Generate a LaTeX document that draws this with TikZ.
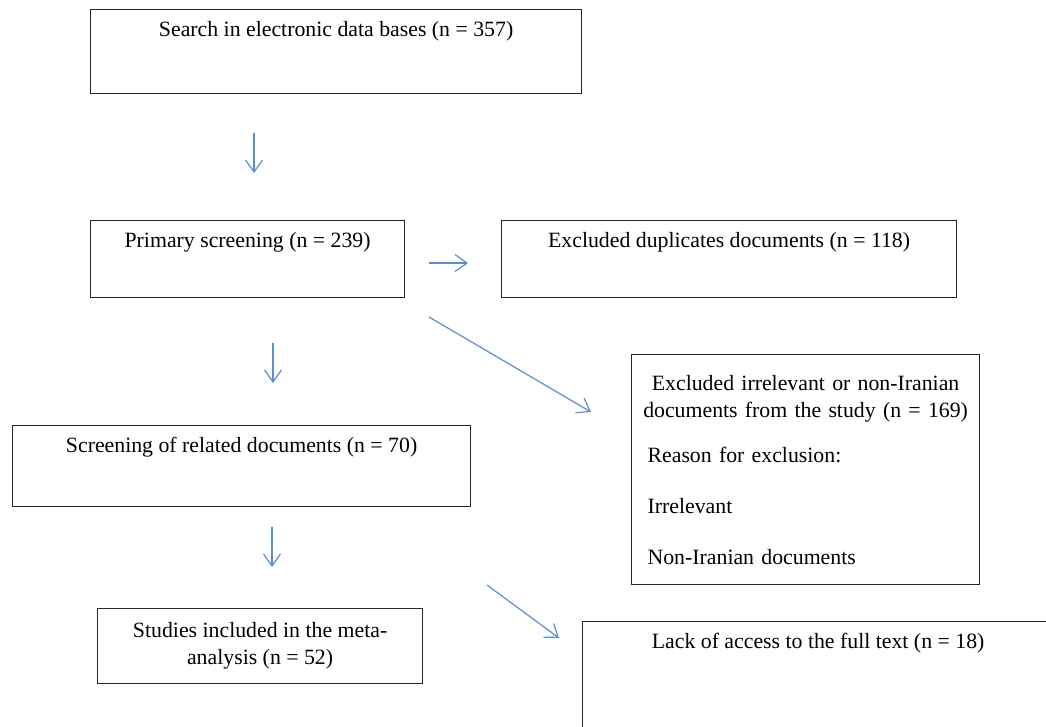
\documentclass[tikz,border=0pt]{standalone}
\usepackage{fontspec}
\setmainfont{Liberation Serif}
\usetikzlibrary{arrows.meta}
\definecolor{flowblue}{RGB}{91,141,207}

\begin{document}
\begin{tikzpicture}[x=1pt,y=-1pt,
	box/.style={draw=black!85,line width=1.2pt,anchor=north west,inner sep=0pt,
		font=\fontsize{21.8}{27}\selectfont},
	boxtext/.style={anchor=north,yshift=-12pt,inner sep=0pt,font=\fontsize{21.8}{27}\selectfont},
	flow/.style={draw=flowblue,line width=1.2pt,-{Straight Barb[length=12pt,width=17pt]}}]
	\useasboundingbox (0,0) rectangle (1046,726);
	\clip (0,0) rectangle (1046,726);
	% boxes
	\node[box,minimum width=491,minimum height=84,
		label={[boxtext]north:{Search in electronic data bases (n = 357)}}] (search) at (90,9) {};
	\node[box,minimum width=314,minimum height=77,
		label={[boxtext]north:{Primary screening (n = 239)}}] (primary) at (90,220) {};
	\node[box,minimum width=455,minimum height=77,
		label={[boxtext]north:{Excluded duplicates documents (n = 118)}}] (dupl) at (501,220) {};
	\node[box,minimum width=348,minimum height=230,text width=332] (irrel) at (631,354)
		{\parindent=0pt{\centering Excluded irrelevant or non-Iranian\\
		documents from the study (n = 169)\par}
		\raggedright\leftskip=8pt
		\vspace{18pt}Reason for exclusion:\\[24pt]
		Irrelevant\\[24pt]
		Non-Iranian documents\par};
	\node[box,minimum width=458,minimum height=81,
		label={[boxtext]north:{Screening of related documents (n = 70)}}] (related) at (12,425) {};
	\node[box,minimum width=325,minimum height=75,align=center] (included) at (97,608)
		{Studies included in the meta-\\analysis (n = 52)};
	\node[box,minimum width=471,minimum height=140,
		label={[boxtext]north:{Lack of access to the full text (n = 18)}}] (access) at (582,621) {};
	% arrows
	\coordinate (a1) at (254,133); \coordinate (b1) at (254,173);
	\coordinate (a2) at (429,263); \coordinate (b2) at (468,263);
	\coordinate (a3) at (429,317); \coordinate (b3) at (591,412);
	\coordinate (a4) at (273,343); \coordinate (b4) at (273,383);
	\coordinate (a5) at (272,527); \coordinate (b5) at (272,567);
	\coordinate (a6) at (487,585); \coordinate (b6) at (559,638);
	\foreach \s/\e in {a1/b1,a2/b2,a3/b3,a4/b4,a5/b5,a6/b6}
		\draw[flow] (\s) -- (\e);
\end{tikzpicture}
\end{document}
